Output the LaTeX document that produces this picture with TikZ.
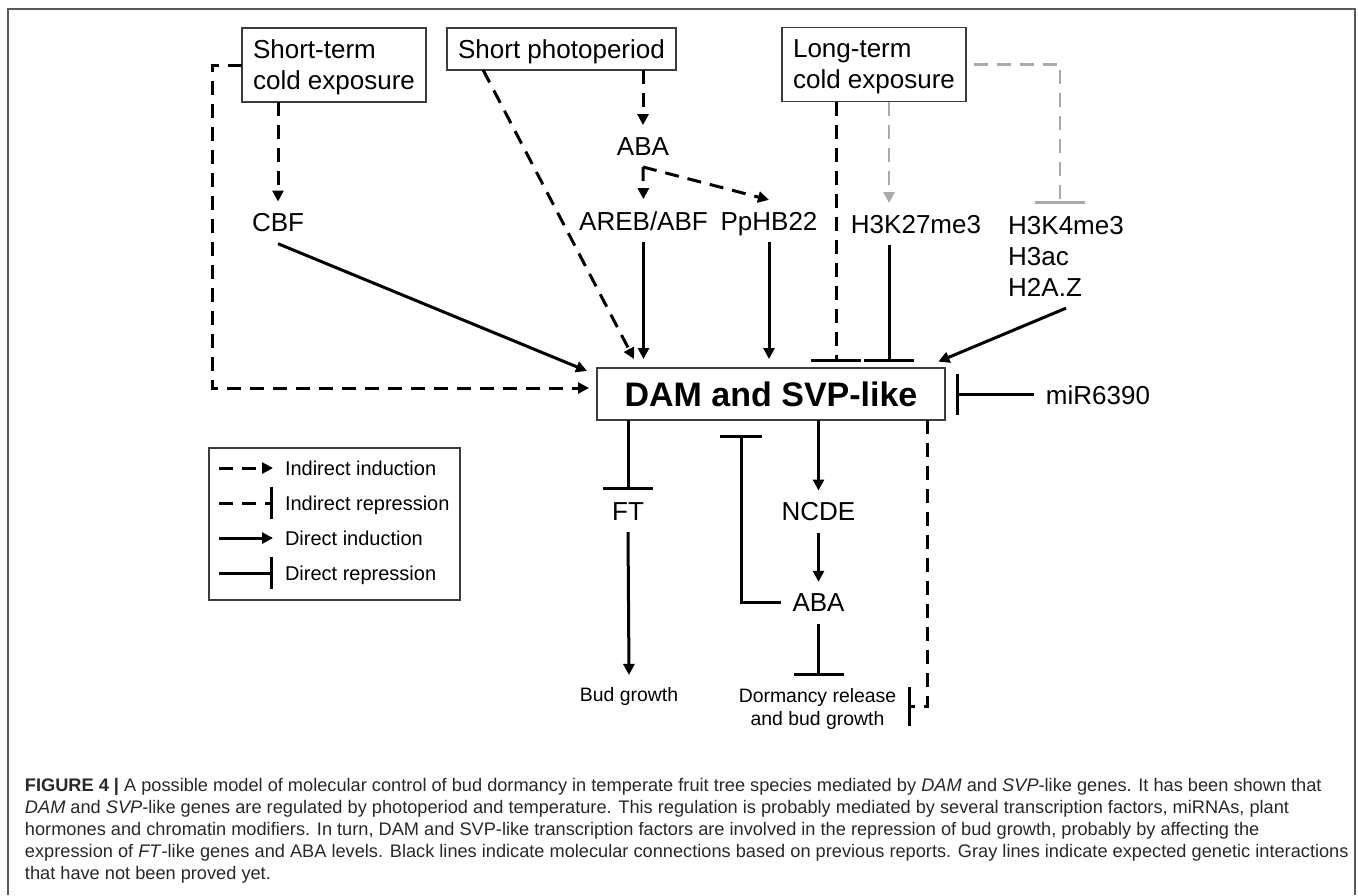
\documentclass[tikz,border=0pt]{standalone}
\usepackage{fontspec}
\setmainfont{Liberation Sans}
\usepackage{tikz}
\usetikzlibrary{arrows.meta}
\newcommand{\genefont}{\fontsize{13}{15.5}\selectfont}
\newcommand{\smallgenefont}{\fontsize{9.7}{11.65}\selectfont}
\newcommand{\legendfont}{\fontsize{10}{12}\selectfont}
\newcommand{\captionfont}{\fontsize{9.1}{11}\selectfont}
\newcommand{\tiplength}{5.5pt}
\newcommand{\barwidth}{25pt}
\definecolor{framegray}{RGB}{90,90,90}
\definecolor{boxgray}{RGB}{60,60,60}
\definecolor{unproved}{RGB}{170,170,170}
\definecolor{captiongray}{RGB}{40,40,40}
\tikzstyle{stimulus}=[draw=boxgray, line width=0.75pt, inner xsep=5.5pt, inner ysep=0, outer sep=0, align=left]
\tikzstyle{target}=[draw=boxgray, line width=0.75pt, outer sep=0, minimum width=174pt, minimum height=26pt,
                    font=\fontsize{17}{20}\selectfont\bfseries]
\tikzstyle{link}=[line width=1.5pt]
\tikzstyle{indirect}=[link, dash pattern=on 7pt off 4.5pt]
\tikzstyle{unproven}=[indirect, draw=unproved, line width=1.3pt]
\tikzstyle{induce}=[-{Triangle[length=\tiplength, width=\tiplength]}]
\tikzstyle{repress}=[-{Bar[width=\barwidth]}]
\tikzstyle{legendbar}=[-{Bar[width=16pt]}]
\tikzstyle{captionline}=[anchor=base west, font=\captionfont, text=captiongray]
\tikzstyle{budmodel}=[x=0.5pt, y=-0.5pt,
                      % labels keep 6pt clear of the lines that reach them
                      every node/.style={inner sep=0, outer xsep=6pt, outer ysep=6pt, text depth=0pt, font=\genefont}]

\begin{document}
\begin{tikzpicture}[budmodel]
    \useasboundingbox (0,0) rectangle (1358,895);
    \draw[framegray, line width=1pt] (8,895) -- (8,9) -- (1355,9) -- (1355,895);

    % stimuli and the target genes
    \node[stimulus, minimum height=37pt] (shortcold) at (334,65) {Short-term\\cold exposure};
    \node[stimulus, minimum height=21pt] (photo) at (561.5,49) {Short photoperiod};
    \node[stimulus, minimum height=37pt] (longcold) at (874,64.5) {Long-term\\cold exposure};
    \node[target] (dam) at (771,394) {DAM and SVP-like};

    \node[anchor=base] (cbf) at (278,231.7) {CBF};
    \node[anchor=base] (abaup) at (643,155) {ABA};
    \node[anchor=base] (areb) at (643.5,230) {AREB/ABF};
    \node[anchor=base] (pphb) at (769,230) {PpHB22};
    \node[anchor=base] (h3k27) at (916,233.3) {H3K27me3};
    \node[anchor=north, align=left] (marks) at (1066,204) {H3K4me3\\H3ac\\H2A.Z};
    \node[anchor=base] (mir) at (1098,404) {miR6390};
    \node[anchor=base] (ft) at (628,520) {FT};
    \node[anchor=base] (ncde) at (818.5,520.7) {NCDE};
    \node[anchor=base] (abadown) at (818.5,611.7) {ABA};
    \node[anchor=base, font=\smallgenefont] (bud) at (629,701) {Bud growth};
    \node[anchor=north, align=center, font=\smallgenefont] (release) at (817.5,676) {Dormancy release\\and bud growth};

    \coordinate (damin) at ([yshift=4.5pt]dam.north);
    \coordinate (dambar) at ([yshift=3pt]dam.north);
    \coordinate (shortloop) at (212,388);
    \coordinate (ababack) at (741,435);
    \coordinate (longleft) at ([xshift=27pt]longcold.south west);
    \coordinate (longright) at ([xshift=53.5pt]longcold.south west);

    \draw[indirect, induce, shorten >=4pt] (shortcold.west) -| (shortloop) -- (dam.west |- shortloop);
    \draw[indirect, induce] (cbf.north |- shortcold.south) -- (cbf.north);
    \draw[link, induce] (cbf.south) -- ([xshift=-5pt, yshift=-1.5pt]dam.north west);
    \draw[indirect, induce] ([xshift=18pt]photo.south west) -- ([xshift=18.5pt, yshift=4.5pt]dam.north west);
    \draw[indirect, induce] (abaup.north |- photo.south) -- (abaup.north);
    \draw[indirect, induce] (abaup.south) -- (areb.north);
    \draw[indirect, induce] (abaup.south) -- (pphb.north);
    \draw[link, induce] (areb.south) -- (areb.south |- damin);
    \draw[link, induce] (pphb.south) -- (pphb.south |- damin);
    \draw[indirect, repress] (longleft) -- (longleft |- dambar);
    \draw[unproven, induce] (longright) -- (longright |- h3k27.north);
    \draw[unproven, repress, shorten <=4pt] (longcold.east) -| ([xshift=-3pt]marks.north);
    \draw[link, repress] (longright |- h3k27.south) -- (longright |- dambar);
    \draw[link, induce] (marks.south) -- ([xshift=-3.3pt, yshift=3.2pt]dam.north east);
    \draw[link, -{Bar[width=20.5pt]}] (mir.west) -- ([xshift=5.5pt]dam.east |- mir.west);

    \draw[link, repress] (ft.north |- dam.south) -- (ft.north);
    \draw[link, induce] (ft.south) -- (bud.north);
    \draw[link, induce] (ncde.north |- dam.south) -- (ncde.north);
    \draw[link, induce] (ncde.south) -- (abadown.north);
    \draw[link, -{Bar[width=21pt]}] (abadown.west) -| (ababack);
    \draw[link, repress] (abadown.south) -- (abadown.south |- release.north);
    \draw[indirect, -{Bar[width=19.5pt]}] ([xshift=-9pt]dam.south east) |- (release.east);

    % legend
    \node[draw=boxgray, line width=0.75pt, outer sep=0, minimum width=125.5pt, minimum height=76pt] (legend) at (334.5,524) {};
    \foreach \txt/\kind/\tip [count=\i] in {Indirect induction/indirect/induce, Indirect repression/indirect/legendbar,
                                             Direct induction/link/induce, Direct repression/link/legendbar}{
        \node[anchor=base west, font=\legendfont] (key\i) at (273,440.3+35*\i) {\txt};
        \draw[\kind, \tip] ([xshift=-27pt]key\i.west) -- (key\i.west);
    }

    % caption, one node per printed line
    \foreach \captext [count=\i] in {%
        {\textbf{FIGURE 4 |} A possible model of molecular control of bud dormancy in temperate fruit tree species mediated by \textit{DAM} and \textit{SVP}-like genes. It has been shown that},
        {\textit{DAM} and \textit{SVP}-like genes are regulated by photoperiod and temperature. This regulation is probably mediated by several transcription factors, miRNAs, plant},
        {hormones and chromatin modifiers. In turn, DAM and SVP-like transcription factors are involved in the repression of bud growth, probably by affecting the},
        {expression of \textit{FT}-like genes and ABA levels. Black lines indicate molecular connections based on previous reports. Gray lines indicate expected genetic interactions},
        {that have not been proved yet.}}
        \node[captionline] (caption\i) at (13,769+22*\i) {\captext};
\end{tikzpicture}
\end{document}
